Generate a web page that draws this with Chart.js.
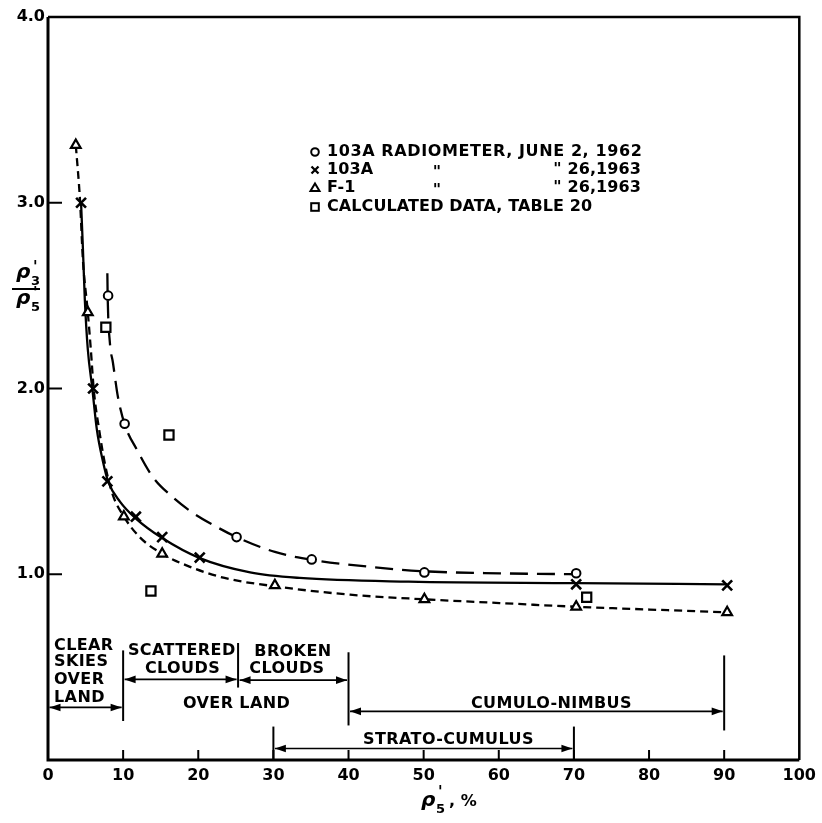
<!DOCTYPE html>
<html><head><meta charset="utf-8">
<script src="https://cdn.jsdelivr.net/npm/chart.js@4.4.1/dist/chart.umd.min.js"></script>
<style>html,body{margin:0;padding:0;background:#fff}#wrap{width:822px;height:823px;position:relative}</style>
</head><body><div id="wrap"><canvas id="c"></canvas></div>
<script>
// ---- tick labels ----
const xTickLabels = ['0','10','20','30','40','50','60','70','80','90','100'];
const yTickLabels = ['','1.0','2.0','3.0','4.0'];

// ---- measured points ----
const circlesX = [8.0, 10.2, 25.1, 35.1, 50.1, 70.3];
const circlesY = [2.50, 1.81, 1.20, 1.08, 1.01, 1.005];
const crossesX = [4.4, 6.0, 7.9, 11.7, 15.2, 20.2, 70.3, 90.4];
const crossesY = [3.0, 2.0, 1.50, 1.31, 1.20, 1.09, 0.946, 0.94];
const trianglesX = [3.7, 5.3, 10.1, 15.2, 30.2, 50.1, 70.3, 90.4];
const trianglesY = [3.31, 2.41, 1.31, 1.11, 0.94, 0.865, 0.825, 0.795];
const squaresX = [7.7, 16.1, 13.7, 71.7];
const squaresY = [2.33, 1.75, 0.91, 0.876];

// ---- fitted curves ----
const curveCircleX = [7.9, 7.95, 8.24, 8.64, 9.31, 10.24, 11.84, 13.96, 16.6, 19.3, 22.0, 25.1, 30.2, 35.1, 42.8, 50.1, 60.1, 70.3];
const curveCircleY = [2.62, 2.48, 2.245, 2.14, 1.954, 1.803, 1.67, 1.523, 1.415, 1.33, 1.265, 1.20, 1.12, 1.078, 1.04, 1.016, 1.005, 1.0];
const curveCrossX = [4.4, 4.65, 4.9, 5.3, 5.9, 6.5, 7.3, 8.0, 9.6, 11.7, 15.2, 20.2, 26.9, 33.5, 48.0, 70.3, 90.4];
const curveCrossY = [3.0, 2.75, 2.48, 2.21, 2.0, 1.78, 1.61, 1.50, 1.39, 1.30, 1.195, 1.087, 1.01, 0.98, 0.96, 0.952, 0.946];
const curveTriX = [3.7, 4.25, 4.65, 5.3, 5.7, 6.1, 6.8, 7.6, 8.6, 10.1, 12.2, 15.2, 18.9, 23.5, 30.2, 40.2, 50.1, 60.1, 70.3, 80.1, 90.4];
const curveTriY = [3.31, 3.02, 2.69, 2.41, 2.21, 1.99, 1.78, 1.59, 1.43, 1.31, 1.20, 1.11, 1.04, 0.98, 0.935, 0.89, 0.865, 0.845, 0.825, 0.81, 0.795];

// ---- legend text ----
const legendLeft = ['103A RADIOMETER, JUNE 2, 1962', '103A', 'F-1', 'CALCULATED DATA, TABLE 20'];
const legendRight = ['', '" 26,1963', '" 26,1963', ''];

// ---- range annotations (x in %, y in ratio units) ----
const rangeArrows = [ // [x0, x1, y]
  [0, 10, 0.283], [10, 25.3, 0.434], [25.3, 40, 0.43], [40, 90, 0.262], [30, 70, 0.062]
];
const rangeBars = [ // [x, y0, y1]
  [10, 0.21, 0.59], [25.3, 0.39, 0.63], [40, 0.186, 0.58], [90, 0.159, 0.563], [30, 0, 0.18], [70, 0, 0.18]
];
const rangeLabels = [ // [text, x, y, align]
  ['CLEAR', 0.8, 0.617, 'left'], ['SKIES', 0.8, 0.526, 'left'], ['OVER', 0.8, 0.434, 'left'], ['LAND', 0.8, 0.337, 'left'],
  ['SCATTERED', 17.8, 0.59, 'center'], ['CLOUDS', 17.9, 0.493, 'center'],
  ['BROKEN', 32.6, 0.58, 'center'], ['CLOUDS', 31.8, 0.493, 'center'],
  ['OVER LAND', 25.1, 0.305, 'center'],
  ['CUMULO-NIMBUS', 67.0, 0.305, 'center'],
  ['STRATO-CUMULUS', 53.3, 0.11, 'center']
];

const pts = (xs, ys) => xs.map((x, i) => ({x, y: ys[i]}));
const FONT = '"DejaVu Sans", sans-serif';

function arrowHead(ctx, x, y, dir) {
  ctx.beginPath();
  ctx.moveTo(x, y);
  ctx.lineTo(x - dir * 11, y - 3.8);
  ctx.lineTo(x - dir * 11, y + 3.8);
  ctx.closePath();
  ctx.fill();
}

const overlay = {
  id: 'overlay',
  afterDraw(chart) {
    const {ctx, chartArea: a, scales: {x, y}} = chart;
    ctx.save();
    ctx.strokeStyle = '#000'; ctx.fillStyle = '#000';
    // frame
    ctx.lineWidth = 3;
    ctx.beginPath();
    ctx.moveTo(a.left, a.top); ctx.lineTo(a.left, a.bottom); ctx.lineTo(a.right, a.bottom);
    ctx.stroke();
    ctx.lineWidth = 2.5;
    ctx.beginPath();
    ctx.moveTo(a.left, a.top); ctx.lineTo(a.right, a.top); ctx.lineTo(a.right, a.bottom);
    ctx.stroke();
    // inward ticks
    ctx.lineWidth = 2;
    [1, 2, 3].forEach(v => {
      const py = y.getPixelForValue(v);
      ctx.beginPath(); ctx.moveTo(a.left, py); ctx.lineTo(a.left + 14, py); ctx.stroke();
    });
    [10, 20, 30, 40, 50, 60, 70, 80, 90].forEach(v => {
      const px = x.getPixelForValue(v);
      ctx.beginPath(); ctx.moveTo(px, a.bottom); ctx.lineTo(px, a.bottom - 10); ctx.stroke();
    });
    // range bars
    ctx.lineWidth = 2;
    rangeBars.forEach(([xv, y0, y1]) => {
      const px = x.getPixelForValue(xv);
      ctx.beginPath(); ctx.moveTo(px, y.getPixelForValue(y0)); ctx.lineTo(px, y.getPixelForValue(y1)); ctx.stroke();
    });
    // arrows
    ctx.lineWidth = 1.7;
    rangeArrows.forEach(([x0, x1, yv]) => {
      const p0 = x.getPixelForValue(x0) + 1.5, p1 = x.getPixelForValue(x1) - 1.5, py = y.getPixelForValue(yv);
      ctx.beginPath(); ctx.moveTo(p0, py); ctx.lineTo(p1, py); ctx.stroke();
      arrowHead(ctx, p0, py, -1);
      arrowHead(ctx, p1, py, 1);
    });
    // range labels
    ctx.font = 'bold 16px ' + FONT;
    ctx.textBaseline = 'middle';
    ctx.letterSpacing = '0.4px';
    rangeLabels.forEach(([t, xv, yv, al]) => {
      ctx.textAlign = al;
      ctx.fillText(t, x.getPixelForValue(xv), y.getPixelForValue(yv));
    });
    // legend
    const lx = 315, tx = 327, rows = [152, 170, 188, 207];
    ctx.textAlign = 'left';
    rows.forEach((ry, i) => {
      ctx.letterSpacing = i === 0 ? '0.6px' : '0.1px';
      ctx.fillText(legendLeft[i], tx, ry);
      if (legendRight[i]) {
        ctx.textAlign = 'center'; ctx.fillText('"', 437, ry + 3);
        ctx.textAlign = 'right'; ctx.fillText(legendRight[i], 641, ry);
        ctx.textAlign = 'left';
      }
    });
    ctx.letterSpacing = '0px';
    ctx.lineWidth = 2;
    ctx.strokeStyle = '#000';
    // legend markers
    ctx.beginPath(); ctx.arc(lx, rows[0], 3.8, 0, Math.PI * 2); ctx.stroke();
    ctx.lineWidth = 2.3;
    ctx.beginPath(); ctx.moveTo(lx - 3.5, rows[1] - 3.5); ctx.lineTo(lx + 3.5, rows[1] + 3.5);
    ctx.moveTo(lx + 3.5, rows[1] - 3.5); ctx.lineTo(lx - 3.5, rows[1] + 3.5); ctx.stroke();
    ctx.lineWidth = 2;
    ctx.beginPath(); ctx.moveTo(lx, rows[2] - 4.5); ctx.lineTo(lx + 4.5, rows[2] + 3); ctx.lineTo(lx - 4.5, rows[2] + 3); ctx.closePath(); ctx.stroke();
    ctx.strokeRect(lx - 3.8, rows[3] - 3.8, 7.6, 7.6);
    // axis titles
    ctx.font = 'italic bold 20px ' + FONT;
    ctx.textAlign = 'left'; ctx.textBaseline = 'alphabetic';
    ctx.fillText('\u03c1', 16, 278);
    ctx.fillText('\u03c1', 16, 304);
    ctx.fillText('\u03c1', 421, 806);
    ctx.font = 'bold 13px ' + FONT;
    ctx.fillText('3', 31, 285); ctx.fillText('5', 31, 311); ctx.fillText('5', 436, 813);
    ctx.font = 'italic bold 15px ' + FONT;
    ctx.fillText("'", 33, 272); ctx.fillText("'", 33, 298); ctx.fillText("'", 438, 797);
    ctx.lineWidth = 2;
    ctx.beginPath(); ctx.moveTo(12, 289); ctx.lineTo(40, 289); ctx.stroke();
    ctx.font = 'bold 16px ' + FONT;
    ctx.fillText(', %', 449, 806);
    ctx.restore();
  }
};

const lineDs = (xs, ys, dash, w) => ({
  type: 'line', data: pts(xs, ys), borderColor: '#000', borderWidth: w, borderDash: dash,
  pointRadius: 0, cubicInterpolationMode: 'monotone', fill: false, order: 2
});
const markDs = (xs, ys, style, r, bw) => ({
  type: 'scatter', data: pts(xs, ys), pointStyle: style, pointRadius: r, pointBorderWidth: bw,
  pointBackgroundColor: '#fff', pointBorderColor: '#000', showLine: false, order: 1
});

new Chart(document.getElementById('c'), {
  type: 'scatter',
  data: {
    datasets: [
      markDs(circlesX, circlesY, 'circle', 4.3, 2),
      markDs(crossesX, crossesY, 'crossRot', 7, 2.6),
      markDs(trianglesX, trianglesY, 'triangle', 5.6, 2.2),
      markDs(squaresX, squaresY, 'rect', 6.5, 2.2),
      lineDs(curveCircleX, curveCircleY, [18, 9], 2.3),
      lineDs(curveCrossX, curveCrossY, [], 2.3),
      lineDs(curveTriX, curveTriY, [8, 5], 2.3)
    ]
  },
  options: {
    responsive: true, maintainAspectRatio: false, animation: false,
    layout: {padding: {left: 0, right: 22, top: 17, bottom: 0}},
    plugins: {legend: {display: false}, tooltip: {enabled: false}},
    scales: {
      x: {
        type: 'linear', min: 0, max: 100,
        afterFit: s => { s.height = 63; },
        afterBuildTicks: s => { s.ticks = xTickLabels.map((t, i) => ({value: i * 10})); },
        ticks: {callback: (v, i) => xTickLabels[i], color: '#000', font: {family: 'DejaVu Sans', weight: 'bold', size: 16}, padding: 6, maxRotation: 0},
        grid: {display: false, drawTicks: false}, border: {display: false}
      },
      y: {
        type: 'linear', min: 0, max: 4,
        afterFit: s => { s.width = 48; },
        afterBuildTicks: s => { s.ticks = yTickLabels.map((t, i) => ({value: i})); },
        ticks: {callback: (v, i) => yTickLabels[i], color: '#000', font: {family: 'DejaVu Sans', weight: 'bold', size: 16}, padding: 3},
        grid: {display: false, drawTicks: false}, border: {display: false}
      }
    }
  },
  plugins: [overlay]
});
</script></body></html>
